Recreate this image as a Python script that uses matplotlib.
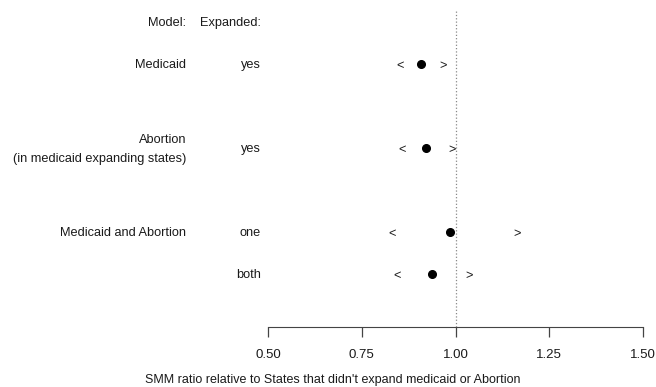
import matplotlib
matplotlib.use('Agg')
import matplotlib.pyplot as plt
import matplotlib.transforms as mtransforms

plt.rcParams['font.family'] = ['Liberation Sans', 'DejaVu Sans']

# rows: model label, expansion level, row index
models = ['Medicaid', 'Abortion\n(in medicaid expanding states)', 'Medicaid and Abortion', '']
expanded = ['yes', 'yes', 'one', 'both']
rows = [1, 3, 5, 6]

# SMM ratio estimates and interval bounds
ratio = [0.907, 0.920, 0.985, 0.937]
lower = [0.852, 0.857, 0.830, 0.843]
upper = [0.967, 0.990, 1.165, 1.036]

xticks = [0.50, 0.75, 1.00, 1.25, 1.50]
xlabel = "SMM ratio relative to States that didn't expand medicaid or Abortion"

W, H = 656, 387
fig = plt.figure(figsize=(W / 100, H / 100), dpi=100)

row_px = 42.0
top_row_px = 22.0
axis_px = 327.0
top_px = 11.0
ax = fig.add_axes([268 / W, (H - axis_px) / H, 375 / W, (axis_px - top_px) / H])
ax.set_xlim(0.5, 1.5)
ax.set_ylim((axis_px - top_row_px) / row_px, (top_px - top_row_px) / row_px)

for s in ['top', 'right', 'left']:
    ax.spines[s].set_visible(False)
ax.spines['bottom'].set_bounds(0.5, 1.5)
ax.spines['bottom'].set_color('#444444')
ax.set_yticks([])
ax.set_xticks(xticks)
ax.set_xticklabels(['%.2f' % t for t in xticks])
ax.tick_params(axis='x', length=7, width=0.9, color='#444444', pad=8.5,
               labelsize=9.5, labelcolor='#1a1a1a')

ax.axvline(1.0, ls=':', color='#888888', lw=0.9)

txt = dict(fontsize=9.2, color='#1a1a1a')
ax.plot(ratio, rows, 'o', color='black', ms=5.5, clip_on=False)
for lo, hi, r in zip(lower, upper, rows):
    ax.text(lo, r, '<', ha='center', va='center_baseline', **txt)
    ax.text(hi, r, '>', ha='center', va='center_baseline', **txt)

lab = mtransforms.blended_transform_factory(fig.transFigure, ax.transData)
model_x = 186 / W
exp_x = 261 / W
ax.text(model_x, 0, 'Model:', ha='right', va='center_baseline', transform=lab, **txt)
ax.text(exp_x, 0, 'Expanded:', ha='right', va='center_baseline', transform=lab, **txt)
for m, e, r in zip(models, expanded, rows):
    if m:
        # two-line labels are centred as a block, single lines on the baseline
        va = 'center' if '\n' in m else 'center_baseline'
        ax.text(model_x, r + (0.03 if '\n' in m else 0), m, ha='right', va=va,
                transform=lab, linespacing=1.8, **txt)
    ax.text(exp_x, r, e, ha='right', va='center_baseline', transform=lab, **txt)

fig.text(333 / W, (H - 380) / H, xlabel, ha='center', va='center', fontsize=9, color='#1a1a1a')

fig.savefig('out.png', dpi=100)
